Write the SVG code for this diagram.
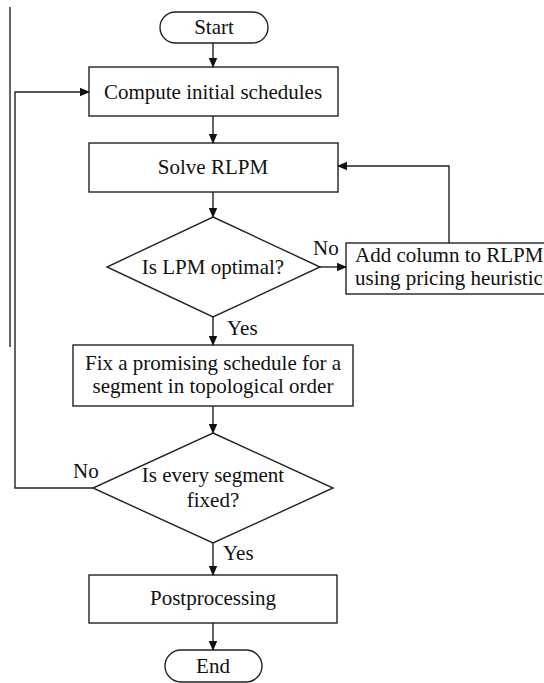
<svg xmlns="http://www.w3.org/2000/svg" width="544" height="683" viewBox="0 0 544 683">
<style>
.s{fill:#fff;stroke:#222;stroke-width:1.4}
.t{font-family:"Liberation Serif","Times New Roman",serif;font-size:21px;fill:#111;text-anchor:middle}
.l{font-family:"Liberation Serif","Times New Roman",serif;font-size:21px;fill:#111}
.c{fill:none;stroke:#222;stroke-width:1.4}
</style>
<defs>
<marker id="a" markerWidth="10" markerHeight="10" refX="9" refY="5" orient="auto" markerUnits="userSpaceOnUse">
<path d="M0,0.8 L10,5 L0,9.2 Z" fill="#111"/>
</marker>
</defs>
<rect width="544" height="683" fill="#fff"/>
<line x1="10" y1="7" x2="10" y2="347" stroke="#222" stroke-width="1.4"/>
<g id="start"><rect class="s" x="160" y="12" width="108" height="31" rx="15.5"/><text class="t" x="214" y="34">Start</text></g>
<g id="compute"><rect class="s" x="89" y="67" width="249" height="49"/><text class="t" x="213" y="99">Compute initial schedules</text></g>
<g id="solve"><rect class="s" x="89" y="143" width="249" height="49"/><text class="t" x="213" y="174">Solve RLPM</text></g>
<g id="lpm"><polygon class="s" points="213,217 320,267 213,317 107,267"/><text class="t" x="213" y="274">Is LPM optimal?</text></g>
<g id="addcol"><rect class="s" x="346" y="243" width="210" height="51"/><text class="l" x="355" y="262">Add column to RLPM</text><text class="l" x="355" y="285">using pricing heuristic</text></g>
<g id="fix"><rect class="s" x="73" y="345" width="280" height="61"/><text class="t" x="213" y="370">Fix a promising schedule for a</text><text class="t" x="213" y="393">segment in topological order</text></g>
<g id="every"><polygon class="s" points="213,433 333,488 213,543 93,488"/><text class="t" x="213" y="482">Is every segment</text><text class="t" x="213" y="507">fixed?</text></g>
<g id="post"><rect class="s" x="89" y="575" width="248" height="48"/><text class="t" x="213" y="605">Postprocessing</text></g>
<g id="end"><rect class="s" x="165" y="650" width="97" height="32" rx="16"/><text class="t" x="213" y="673">End</text></g>
<g id="connectors">
<line class="c" x1="213" y1="43" x2="213" y2="67" marker-end="url(#a)"/>
<line class="c" x1="213" y1="116" x2="213" y2="143" marker-end="url(#a)"/>
<line class="c" x1="213" y1="192" x2="213" y2="217" marker-end="url(#a)"/>
<line class="c" x1="320" y1="267" x2="346" y2="267" marker-end="url(#a)"/>
<polyline class="c" points="449,243 449,166 338,166" marker-end="url(#a)"/>
<line class="c" x1="213" y1="317" x2="213" y2="345" marker-end="url(#a)"/>
<line class="c" x1="213" y1="406" x2="213" y2="433" marker-end="url(#a)"/>
<polyline class="c" points="93,488 15,488 15,92 89,92" marker-end="url(#a)"/>
<line class="c" x1="213" y1="543" x2="213" y2="575" marker-end="url(#a)"/>
<line class="c" x1="213" y1="623" x2="213" y2="650" marker-end="url(#a)"/>
<text class="l" x="313" y="255">No</text>
<text class="l" x="227" y="335">Yes</text>
<text class="l" x="73" y="478">No</text>
<text class="l" x="223" y="560">Yes</text>
</g>
</svg>
